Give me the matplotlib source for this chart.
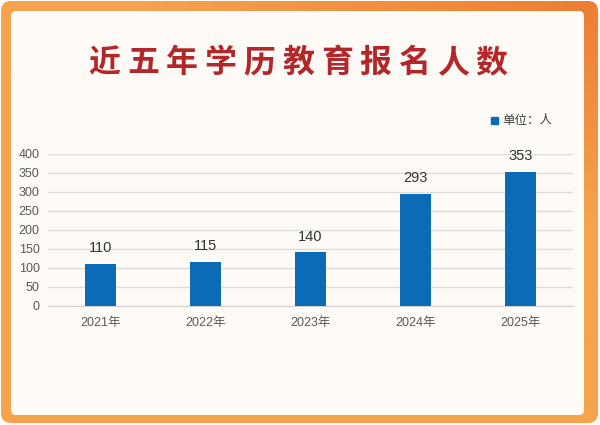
import numpy as np
import matplotlib.pyplot as plt
from matplotlib.patches import FancyBboxPatch, Rectangle

years = ['2021年', '2022年', '2023年', '2024年', '2025年']
counts = [110, 115, 140, 293, 353]
title = '近五年学历教育报名人数'
legend_label = '单位：人'
yticks = [0, 50, 100, 150, 200, 250, 300, 350, 400]

bar_color = '#0B6BB6'
plt.rcParams['font.family'] = ['Liberation Sans', 'Noto Sans CJK SC']

fig = plt.figure(figsize=(6, 4.25), dpi=100)
fig.patch.set_facecolor('white')

# background layer in pixel coordinates
bg = fig.add_axes([0, 0, 1, 1])
bg.set_xlim(0, 600)
bg.set_ylim(425, 0)
bg.axis('off')

# orange frame, darker towards top right
xx, yy = np.meshgrid(np.linspace(0, 1, 300), np.linspace(0, 1, 213))
light = np.array([245, 163, 76]) / 255
dark = np.array([237, 125, 52]) / 255
d = np.clip(1 - np.hypot((1 - xx) * 1.3, yy * 1.9), 0, 1)
grad = light + (dark - light) * d[..., None]
im = bg.imshow(grad, extent=(0, 600, 425, 0), aspect='auto', zorder=0)
frame = FancyBboxPatch((1, 1), 597, 422, boxstyle='round,pad=0,rounding_size=10',
                       fc='none', ec='none')
bg.add_patch(frame)
im.set_clip_path(frame)

panel = FancyBboxPatch((11, 11), 573, 404, boxstyle='round,pad=0,rounding_size=5',
                       fc='#FEFBF6', ec='none', zorder=1)
bg.add_patch(panel)

# title with letter spacing
n = len(title)
for i, ch in enumerate(title):
    bg.text(298 + (i - (n - 1) / 2) * 38.7, 63, ch, ha='center', va='center', fontsize=23,
            weight='bold', color='#B2272A', family='Noto Sans CJK SC', zorder=2)

# legend
bg.add_patch(Rectangle((491, 117), 6.5, 7, color=bar_color, zorder=2))
bg.text(502, 120.5, legend_label, va='center', fontsize=9, color='#404040', zorder=2)

# chart
ax = fig.add_axes([0.08, 0.2807, 0.875, 0.3577])
ax.patch.set_alpha(0)
x = np.arange(len(years))
ax.bar(x, counts, width=0.286, color=bar_color, zorder=3)
for xi, v in zip(x, counts):
    ax.annotate(str(v), (xi, v), xytext=(0, 11.5), textcoords='offset points',
                ha='center', va='center', fontsize=10.5, color='#333333')

ax.set_xlim(-0.5, 4.5)
ax.set_ylim(0, 400)
ax.set_yticks(yticks)
ax.set_xticks(x)
ax.set_xticklabels(years)
ax.grid(axis='y', color='#DCDCDC', lw=1, zorder=0)
for s in ['top', 'right', 'left']:
    ax.spines[s].set_visible(False)
ax.spines['bottom'].set_color('#D0D0D0')
ax.tick_params(axis='both', length=0, labelsize=9, labelcolor='#595959')
ax.tick_params(axis='y', pad=6)
ax.tick_params(axis='x', pad=8)

fig.savefig('out.png', dpi=100)
